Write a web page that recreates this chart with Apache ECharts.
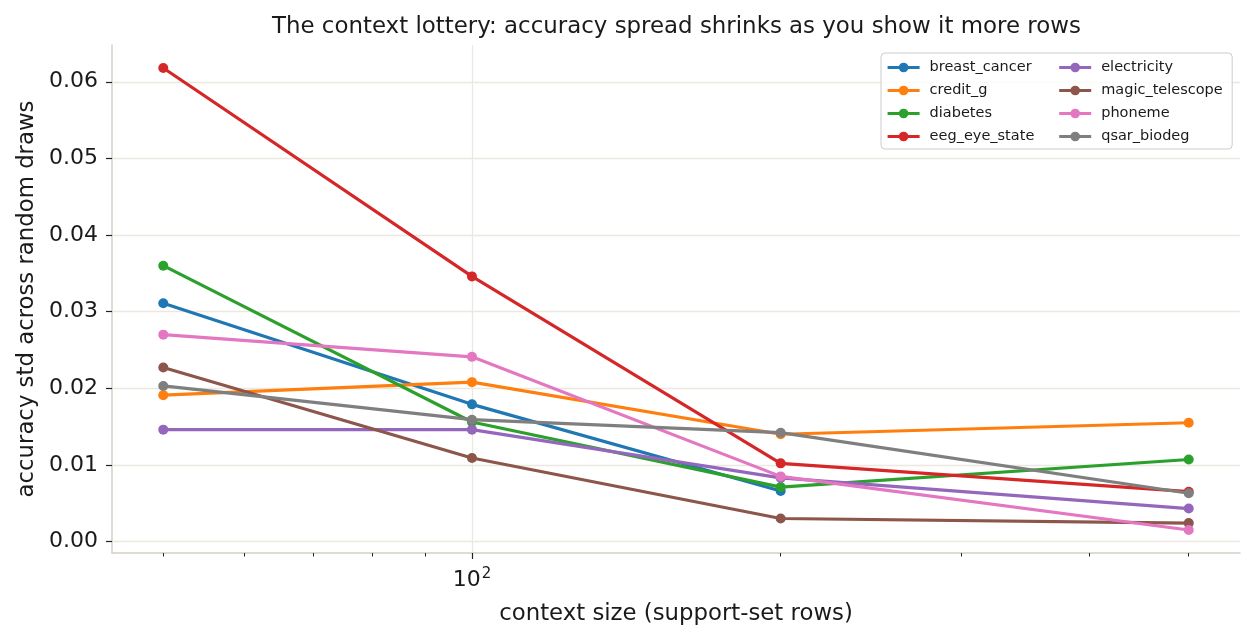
<!DOCTYPE html>
<html>
<head>
<meta charset="utf-8">
<script src="https://cdn.jsdelivr.net/npm/echarts@6/dist/echarts.min.js"></script>
<style>
html,body{margin:0;padding:0;background:#fff;}
#chart{width:1255px;height:640px;}
</style>
</head>
<body>
<div id="chart"></div>
<script>
const contextSizes = [50, 100, 200, 500];
const breast_cancer   = [0.0311, 0.0179, 0.0066];
const credit_g        = [0.0191, 0.0208, 0.0140, 0.0155];
const diabetes        = [0.0360, 0.0156, 0.0071, 0.0107];
const eeg_eye_state   = [0.0618, 0.0346, 0.0102, 0.0065];
const electricity     = [0.0146, 0.0146, 0.0083, 0.0043];
const magic_telescope = [0.0227, 0.0109, 0.0030, 0.0024];
const phoneme         = [0.0270, 0.0241, 0.0085, 0.0015];
const qsar_biodeg     = [0.0203, 0.0159, 0.0142, 0.0063];

const seriesNames = ['breast_cancer','credit_g','diabetes','eeg_eye_state','electricity','magic_telescope','phoneme','qsar_biodeg'];
const seriesValues = [breast_cancer, credit_g, diabetes, eeg_eye_state, electricity, magic_telescope, phoneme, qsar_biodeg];
const colors = ['#1f77b4','#ff7f0e','#2ca02c','#d62728','#9467bd','#8c564b','#e377c2','#7f7f7f'];

const yTicks = [0, 0.01, 0.02, 0.03, 0.04, 0.05, 0.06];
const xMajorTicks = [100];
const xMinorTicks = [50, 60, 70, 80, 90, 200, 300, 400, 500];

const FONT = 'DejaVu Sans';
const TXT = '#1a1a1a';
const xMin = Math.pow(10, Math.log10(50) - 0.05);
const xMax = Math.pow(10, Math.log10(500) + 0.05);

const chart = echarts.init(document.getElementById('chart'), null, {renderer: 'canvas'});

const series = seriesNames.map((name, i) => ({
  name: name,
  type: 'line',
  xAxisIndex: 0,
  yAxisIndex: 0,
  data: seriesValues[i].map((v, j) => [contextSizes[j], v]),
  symbol: 'circle',
  symbolSize: 10,
  showSymbol: true,
  lineStyle: {width: 3.2, color: colors[i]},
  itemStyle: {color: colors[i]},
  emphasis: {disabled: true},
  animation: false,
  z: 3 + i
}));

chart.setOption({
  animation: false,
  backgroundColor: '#fff',
  color: colors,
  title: {
    text: 'The context lottery: accuracy spread shrinks as you show it more rows',
    left: 272,
    top: 16,
    padding: 0,
    textStyle: {fontFamily: FONT, fontSize: 22.9, fontWeight: 'normal', color: TXT}
  },
  legend: {
    orient: 'vertical',
    left: 881,
    top: 53,
    height: 90,
    padding: [6, 9, 4, 5],
    itemGap: 6,
    itemWidth: 32,
    itemHeight: 12,
    itemTextGap: 10,
    lineStyle: {width: 3.2},
    backgroundColor: 'rgba(255,255,255,0.8)',
    borderColor: '#cccccc',
    borderWidth: 1,
    borderRadius: 4,
    textStyle: {fontFamily: FONT, fontSize: 14.5, color: TXT, lineHeight: 17, width: 122, padding: [0, 0, 0, 5]},
    data: seriesNames
  },
  grid: {left: 112, right: 15, top: 45, bottom: 87, containLabel: false},
  xAxis: [
    {
      type: 'log',
      logBase: 10,
      min: xMin,
      max: xMax,
      name: 'context size (support-set rows)',
      nameLocation: 'middle',
      nameGap: 50,
      nameTextStyle: {fontFamily: FONT, fontSize: 22.8, color: TXT},
      axisLine: {show: true, onZero: false, lineStyle: {color: '#d5d0c6', width: 1.5}},
      axisTick: {show: true, customValues: xMajorTicks, length: 6, lineStyle: {color: '#222', width: 1.2}},
      axisLabel: {
        show: true,
        customValues: xMajorTicks,
        margin: 14,
        fontFamily: FONT,
        fontSize: 22,
        color: TXT,
        formatter: function (v) { return '{b|10}{s|' + Math.round(Math.log10(v)) + '}'; },
        rich: {
          b: {fontFamily: FONT, fontSize: 22, color: TXT, lineHeight: 26},
          s: {fontFamily: FONT, fontSize: 15, color: TXT, verticalAlign: 'top', lineHeight: 26, padding: [0, 0, 6, 1]}
        }
      },
      splitLine: {show: true, lineStyle: {color: '#ebe8df', width: 1.3}},
      minorTick: {show: false},
      minorSplitLine: {show: false}
    },
    {
      type: 'log',
      logBase: 10,
      min: xMin,
      max: xMax,
      gridIndex: 0,
      position: 'bottom',
      axisLine: {show: false, onZero: false},
      axisTick: {show: true, customValues: xMinorTicks, length: 3.5, lineStyle: {color: '#222', width: 1}},
      axisLabel: {show: false},
      splitLine: {show: false}
    }
  ],
  yAxis: {
    type: 'value',
    min: -0.0015,
    max: 0.0648,
    name: 'accuracy std across random draws',
    nameLocation: 'middle',
    nameRotate: 90,
    nameGap: 73,
    nameTextStyle: {fontFamily: FONT, fontSize: 22.8, color: TXT},
    axisLine: {show: true, onZero: false, lineStyle: {color: '#d5d0c6', width: 1.5}},
    axisTick: {show: true, customValues: yTicks, length: 6, lineStyle: {color: '#222', width: 1.2}},
    axisLabel: {
      show: true,
      customValues: yTicks,
      margin: 14,
      fontFamily: FONT,
      fontSize: 22,
      color: TXT,
      formatter: function (v) { return v.toFixed(2); }
    },
    splitLine: {show: true, lineStyle: {color: '#ebe8df', width: 1.3}}
  },
  series: series
});
</script>
</body>
</html>
